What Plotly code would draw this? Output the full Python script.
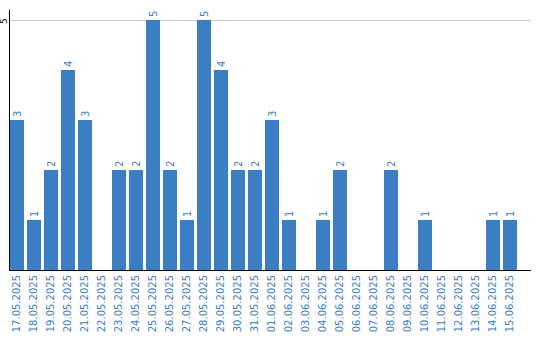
import plotly.graph_objects as go

dates = ["17.05.2025", "18.05.2025", "19.05.2025", "20.05.2025", "21.05.2025",
         "22.05.2025", "23.05.2025", "24.05.2025", "25.05.2025", "26.05.2025",
         "27.05.2025", "28.05.2025", "29.05.2025", "30.05.2025", "31.05.2025",
         "01.06.2025", "02.06.2025", "03.06.2025", "04.06.2025", "05.06.2025",
         "06.06.2025", "07.06.2025", "08.06.2025", "09.06.2025", "10.06.2025",
         "11.06.2025", "12.06.2025", "13.06.2025", "14.06.2025", "15.06.2025"]
counts = [3, 1, 2, 4, 3, 0, 2, 2, 5, 2, 1, 5, 4, 2, 2, 3, 1, 0, 1, 2,
          0, 0, 2, 0, 1, 0, 0, 0, 1, 1]
y_ticks = [5]

blue = "#3b7ec3"
labels = [str(v) if v > 0 else "" for v in counts]

fig = go.Figure(go.Bar(
    x=list(range(len(dates))), y=counts, text=labels,
    textposition="outside", textangle=-90,
    textfont=dict(family="DejaVu Sans", size=10, color=blue),
    marker=dict(color=blue, line=dict(width=0)),
    cliponaxis=False, hoverinfo="skip",
))
for t in y_ticks:
    fig.add_annotation(x=0, xref="paper", y=t, yref="y", text=str(t),
                       textangle=-90, showarrow=False, xanchor="center",
                       yanchor="middle", xshift=-6, yshift=-1, borderpad=0,
                       font=dict(family="DejaVu Sans", size=9, color="black"))
fig.update_layout(
    width=540, height=340, margin=dict(l=10, r=9, t=10, b=70),
    paper_bgcolor="white", plot_bgcolor="white",
    bargap=0.176, showlegend=False,
    xaxis=dict(range=[-0.412, 30.235], tickmode="array",
               tickvals=list(range(len(dates))), ticktext=dates,
               tickangle=-90, tickfont=dict(family="DejaVu Sans", size=10, color=blue),
               showline=True, linecolor="black", linewidth=1,
               showgrid=False, zeroline=False, ticks="", automargin=False),
    yaxis=dict(range=[0, 5.2], tickvals=y_ticks, showticklabels=False,
               showline=True, linecolor="black", linewidth=1,
               showgrid=True, gridcolor="#cccccc", gridwidth=1,
               zeroline=False, ticks="", automargin=False),
)
fig.write_html("out.html")
